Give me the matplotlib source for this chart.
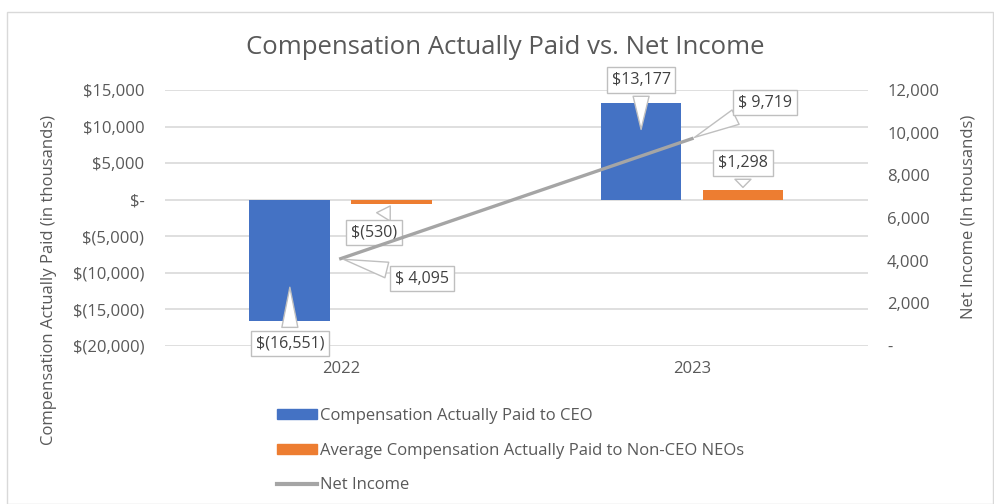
import matplotlib
matplotlib.use("Agg")
import matplotlib.pyplot as plt
from matplotlib.patches import Patch, Rectangle
from matplotlib.lines import Line2D
from matplotlib.ticker import FuncFormatter

plt.rcParams['font.family'] = ['Open Sans', 'DejaVu Sans']

years = ["2022", "2023"]
ceo_cap = [-16551, 13177]
neo_cap = [-530, 1298]
net_income = [4095, 9719]

ceo_labels = ["$(16,551)", "$13,177"]
neo_labels = ["$(530)", "$1,298"]
ni_labels = ["$ 4,095", "$ 9,719"]

blue = "#4472C4"
orange = "#ED7D31"
gray = "#A5A5A5"
txt = "#595959"

fig = plt.figure(figsize=(9.95, 5.04), dpi=100)
ax = fig.add_axes([0.166, 0.3135, 0.706, 0.508])
ax2 = ax.twinx()

x = list(range(len(years)))
w = 0.23
off = 0.145
ax.bar([i - off for i in x], ceo_cap, w, color=blue, zorder=2)
ax.bar([i + off for i in x], neo_cap, w, color=orange, zorder=2)
ax2.plot(x, net_income, color=gray, linewidth=2.4, zorder=3)

ax.set_xlim(-0.5, 1.5)
ax.set_ylim(-20000, 15000)
ax.set_yticks(range(-20000, 15001, 5000))
ax2.set_ylim(0, 12000)
ax2.set_yticks(range(0, 12001, 2000))


def left_fmt(v, pos):
    if v == 0:
        return "$-"
    if v < 0:
        return f"$({abs(v):,.0f})"
    return f"${v:,.0f}"


def right_fmt(v, pos):
    if v == 0:
        return "-"
    return f"{v:,.0f}"


ax.yaxis.set_major_formatter(FuncFormatter(left_fmt))
ax2.yaxis.set_major_formatter(FuncFormatter(right_fmt))
ax.set_xticks(x)
ax.set_xticklabels(years)

ax.grid(axis='y', color="#D9D9D9", linewidth=1.2, zorder=0)
ax.set_axisbelow(True)
for a in (ax, ax2):
    for s in a.spines.values():
        s.set_visible(False)
ax.tick_params(axis='y', length=0, pad=15, labelsize=12, labelcolor=txt)
ax.tick_params(axis='x', length=0, pad=11, labelsize=12, labelcolor=txt)
ax2.tick_params(axis='y', length=0, pad=14, labelsize=12, labelcolor=txt)

ax.set_ylabel("Compensation Actually Paid (in thousands)", fontsize=12, color=txt)
ax.yaxis.set_label_coords(-0.154, 0.258)
ax2.set_ylabel("Net Income (In thousands)", fontsize=12, color=txt, rotation=90)
ax2.yaxis.set_label_coords(1.132, 0.504)

fig.text(0.508, 1 - 47 / 504, "Compensation Actually Paid vs. Net Income",
         ha='center', va='center', fontsize=18.5, color=txt)

box = dict(boxstyle="square,pad=0.3", fc="white", ec="#BFBFBF", lw=1)
wedge = dict(arrowstyle="wedge,tail_width=1.0", fc="white", ec="#BFBFBF", lw=1)

# callouts, pointers go into the bars
ceo_offsets = [(0, -59), (0, 52)]
for i, v in enumerate(ceo_cap):
    ax.annotate(ceo_labels[i], xy=(i - off, v * 0.7), xytext=ceo_offsets[i], textcoords='offset pixels',
                ha='center', va='center', fontsize=11.5, color="#404040", bbox=box, arrowprops=wedge, zorder=5)
neo_offsets = [(-18, -29), (0, 27)]
for i, v in enumerate(neo_cap):
    ax.annotate(neo_labels[i], xy=(i + off, v), xytext=neo_offsets[i], textcoords='offset pixels',
                ha='center', va='center', fontsize=11.5, color="#404040", bbox=box, arrowprops=wedge, zorder=5)
ni_offsets = [(81, -20), (73, 36)]
for i, v in enumerate(net_income):
    ax2.annotate(ni_labels[i], xy=(i, v), xytext=ni_offsets[i], textcoords='offset pixels',
                 ha='center', va='center', fontsize=11.5, color="#404040", bbox=box, arrowprops=wedge, zorder=5)

handles = [Patch(color=blue), Patch(color=orange), Line2D([0], [0], color=gray, lw=3)]
names = ["Compensation Actually Paid to CEO",
         "Average Compensation Actually Paid to Non-CEO NEOs",
         "Net Income"]
fig.legend(handles, names, loc='upper left', bbox_to_anchor=(262 / 995, 1 - 393 / 504),
           frameon=False, fontsize=12, labelcolor=txt, labelspacing=1.12,
           handlelength=2.4, handletextpad=0.2, handleheight=0.5)

fig.add_artist(Rectangle((7 / 995, 0.0), 986 / 995, 1 - 12 / 504, transform=fig.transFigure,
                         fill=False, ec="#D9D9D9", lw=1))

fig.savefig("out.png", dpi=100)
